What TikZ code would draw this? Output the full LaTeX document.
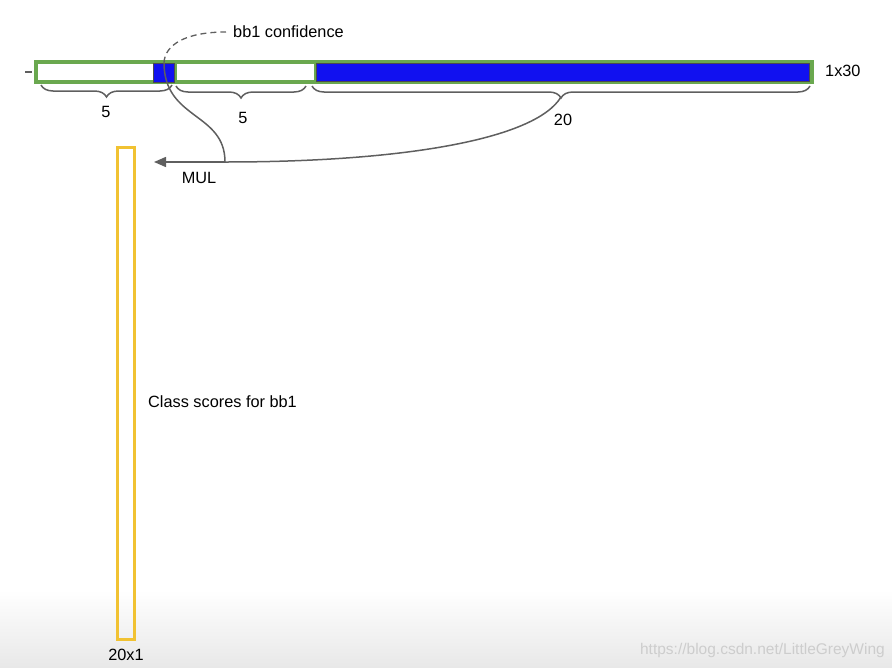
\documentclass[tikz,border=0pt]{standalone}
\usepackage{fontspec}
\setmainfont{Liberation Sans}
\usetikzlibrary{arrows.meta,decorations.pathreplacing,shapes.geometric}
\definecolor{grn}{RGB}{106,168,79}
\definecolor{blu}{RGB}{17,17,240}
\definecolor{ylw}{RGB}{241,194,50}
\definecolor{lin}{RGB}{95,95,95}
\definecolor{wm}{RGB}{205,205,205}
\tikzset{
  greenbox/.style={draw=grn,line width=3.2pt,fill=white},
  bluecell/.style={draw=lin!80!black,line width=0.8pt,fill=blu,inner sep=0pt},
  lbl/.style={font=\fontsize{16.3}{18}\selectfont,inner sep=0pt},
  bracestyle/.style={draw=lin,line width=1.5pt,decorate,decoration={brace,amplitude=12pt,raise=0pt}},
  conn/.style={draw=lin,line width=1.5pt}
}
\begin{document}
\begin{tikzpicture}[x=1pt,y=-1pt]
\useasboundingbox (0,0) rectangle (892,667);
% bottom gradient
\shade[top color=white,bottom color=black!9,draw=none] (0,590) rectangle (892,667);
% left dash
\draw[lin,line width=1.2pt] (25,72) -- (32,72);
% green bar
\draw[greenbox] (36,62) rectangle (175,82);
\draw[greenbox] (175,62) rectangle (316,82);
\draw[greenbox] (316,62) rectangle (812,82);
\node[bluecell,minimum width=21pt,minimum height=19pt] (conf) at (164,72.5) {};
\node[bluecell,minimum width=493pt,minimum height=18pt] (cls) at (563,72) {};
\node[lbl,anchor=west] (dim) at (825,71) {1x30};
% braces
\draw[bracestyle] (172,85) -- (41,85);
\draw[bracestyle] (306,86) -- (176,86);
\draw[bracestyle] (810,86) -- (312,86);
\coordinate (b3tip) at (561,97);
\node[lbl] (l1) at (106,112) {5};
\node[lbl] (l2) at (243,118) {5};
\node[lbl] (l3) at (563,120) {20};
% confidence label
\node[lbl,anchor=west] (conflbl) at (233,32) {bb1 confidence};
\draw[conn,line width=1.3pt,dash pattern=on 6pt off 4pt] (conf.north) .. controls (165,45) and (185,32) .. ([xshift=-7pt]conflbl.west);
% MUL
\coordinate (mul) at (225,162);
\draw[conn] (conf.north) .. controls (164,120) and (225,112) .. (mul);
\draw[conn] (b3tip) .. controls (535,140) and (400,162) .. (mul);
\node[draw=ylw,line width=3pt,minimum width=17pt,minimum height=492pt,inner sep=0pt] (col) at (126,393.5) {};
\draw[conn,-{Triangle[length=12pt,width=10pt]}] (mul) -- ([xshift=18pt]col.east |- mul);
\node[lbl] (mullbl) at (199,178) {MUL};
\node[lbl,anchor=west] (cs) at (148,402) {Class scores for bb1};
\node[lbl] (cdim) at (126,655) {20x1};
\node[font=\fontsize{15.5}{17}\selectfont,text=wm,anchor=east,inner sep=0pt] (wmark) at (885,650) {https://blog.csdn.net/LittleGreyWing};
\end{tikzpicture}
\end{document}
